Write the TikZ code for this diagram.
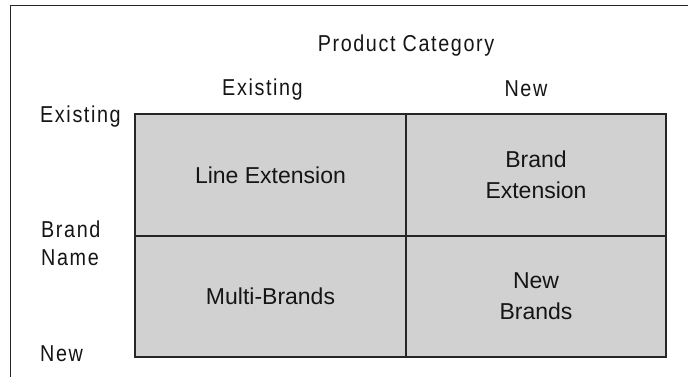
\documentclass[tikz,border=0pt]{standalone}
\usepackage{fontspec}
\setmainfont{Liberation Sans}
\newfontfamily\axisfont[FakeStretch=0.86,LetterSpace=7]{Liberation Sans}
\definecolor{cellgray}{HTML}{D1D1D1}
\definecolor{rulegray}{HTML}{262626}
\definecolor{inkblack}{HTML}{151515}
\begin{document}
\begin{tikzpicture}[x=1pt,y=-1pt,
  cell/.style={draw=rulegray,line width=2.2pt,fill=cellgray,inner sep=0pt,
    align=center,font=\fontsize{23}{31}\selectfont,text=inkblack},
  axislabel/.style={inner sep=0pt,anchor=base,font=\fontsize{23}{28}\axisfont,text=inkblack},
  sidelabel/.style={axislabel,anchor=base west}]
  \useasboundingbox (0,0) rectangle (688,377);
  % open frame: left and top edges only
  \coordinate (frameBL) at (10.5,377);
  \coordinate (frameTL) at (10.5,5.5);
  \coordinate (frameTR) at (688,5.5);
  \draw[rulegray,line width=1.6pt] (frameBL) -- (frameTL) -- (frameTR);
  % the four quadrants
  \node[cell,minimum width=271pt,minimum height=122pt] (le) at (270.5,175) {Line Extension};
  \node[cell,minimum width=260pt,minimum height=122pt] (be) at (536,175) {Brand\\Extension};
  \node[cell,minimum width=271pt,minimum height=121pt] (mb) at (270.5,296.5) {Multi-Brands};
  \node[cell,minimum width=260pt,minimum height=121pt] (nb) at (536,296.5) {New\\Brands};
  % axis headings
  \node[axislabel] (pc) at (406,52) {Product Category};
  \node[axislabel] (colex) at (262.5,96) {Existing};
  \node[axislabel] (colnew) at (526,97) {New};
  \node[sidelabel] (rowex) at (40,123) {Existing};
  \node[sidelabel] (bn1) at (41,237) {Brand};
  \node[sidelabel] (bn2) at (41,265) {Name};
  \node[sidelabel] (rownew) at (40,361) {New};
\end{tikzpicture}
\end{document}
